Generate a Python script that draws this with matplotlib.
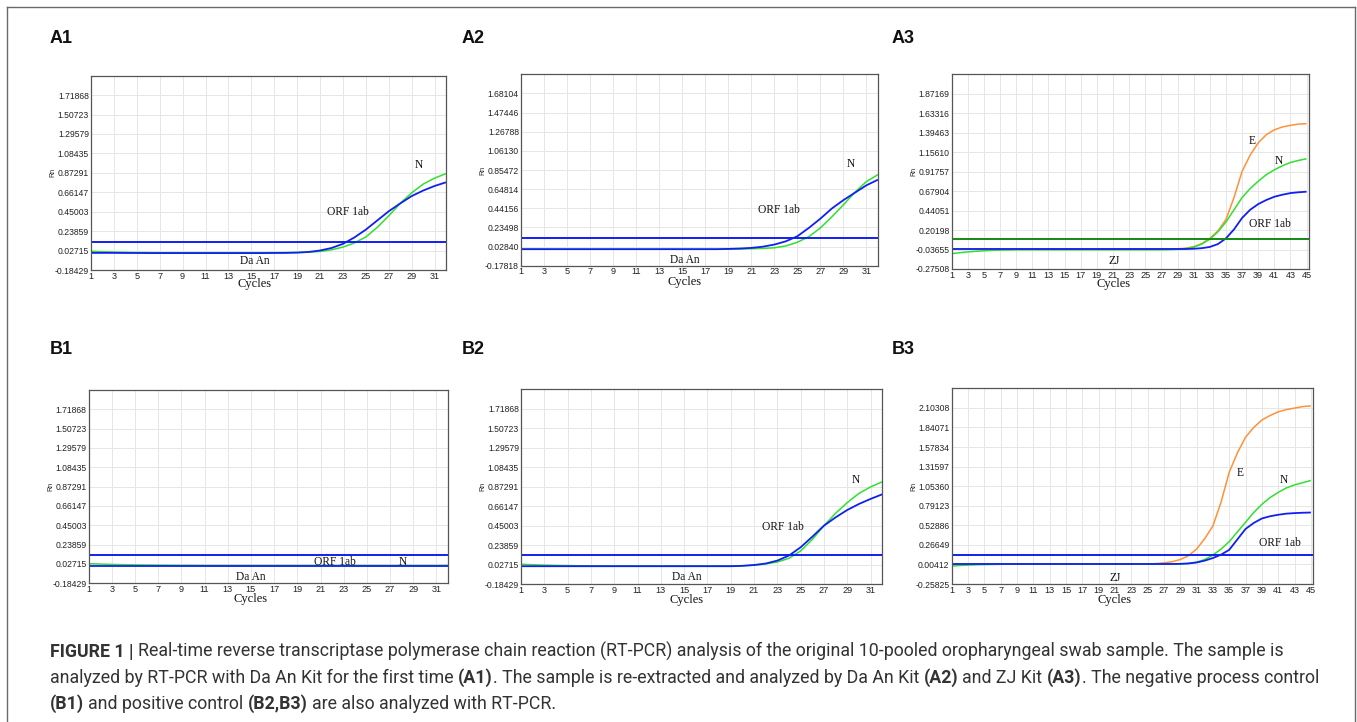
import matplotlib
matplotlib.use("Agg")
import matplotlib.pyplot as plt
from matplotlib.font_manager import FontProperties
from matplotlib.lines import Line2D

# ---------------- data ----------------
CYC32 = list(range(1, 33))
CYC45 = list(range(1, 46))

YT_DAAN = ['-0.18429', '0.02715', '0.23859', '0.45003', '0.66147',
           '0.87291', '1.08435', '1.29579', '1.50723', '1.71868']
YT_A2 = ['-0.17818', '0.02840', '0.23498', '0.44156', '0.64814',
         '0.85472', '1.06130', '1.26788', '1.47446', '1.68104']
YT_A3 = ['-0.27508', '-0.03655', '0.20198', '0.44051', '0.67904',
         '0.91757', '1.15610', '1.39463', '1.63316', '1.87169']
YT_B3 = ['-0.25825', '0.00412', '0.26649', '0.52886', '0.79123',
         '1.05360', '1.31597', '1.57834', '1.84071', '2.10308']

A1_N = [0.020, 0.015, 0.011, 0.008, 0.006, 0.005, 0.004, 0.004, 0.004, 0.004,
        0.004, 0.004, 0.004, 0.004, 0.004, 0.004, 0.005, 0.005, 0.006, 0.010,
        0.018, 0.035, 0.065, 0.110, 0.175, 0.280, 0.405, 0.540, 0.655, 0.750,
        0.815, 0.865]
A1_ORF = [0.002, 0.002, 0.002, 0.001, 0.001, 0.000, 0.000, 0.000, 0.000, 0.000,
          0.000, 0.000, 0.000, 0.000, 0.000, 0.000, 0.001, 0.002, 0.005, 0.012,
          0.028, 0.055, 0.100, 0.170, 0.255, 0.355, 0.455, 0.540, 0.620, 0.680,
          0.730, 0.770]
A1_THR = 0.122

A2_N = [0.003, 0.002, 0.001, 0.000, 0.000, 0.000, 0.000, 0.000, 0.000, 0.000,
        0.000, 0.000, 0.000, 0.000, 0.000, 0.000, 0.000, 0.000, 0.001, 0.002,
        0.005, 0.009, 0.015, 0.035, 0.075, 0.135, 0.230, 0.350, 0.480, 0.615,
        0.730, 0.805]
A2_ORF = [0.000, 0.000, 0.000, 0.000, 0.000, 0.000, 0.000, 0.000, 0.000, 0.000,
          0.000, 0.000, 0.000, 0.000, 0.000, 0.000, 0.000, 0.000, 0.003, 0.007,
          0.014, 0.027, 0.050, 0.085, 0.140, 0.230, 0.330, 0.440, 0.530, 0.610,
          0.690, 0.750]
A2_THR = 0.125

A3_E = [-0.030, -0.030, -0.030, -0.030, -0.030, -0.030, -0.030, -0.030, -0.030, -0.030,
        -0.030, -0.030, -0.030, -0.030, -0.030, -0.030, -0.030, -0.030, -0.030, -0.030,
        -0.030, -0.030, -0.030, -0.030, -0.030, -0.030, -0.030, -0.030, -0.028, -0.020,
        -0.002, 0.035, 0.100, 0.190, 0.330, 0.600, 0.920, 1.120, 1.270, 1.370,
        1.430, 1.465, 1.485, 1.500, 1.505]
A3_N = [-0.087, -0.075, -0.066, -0.058, -0.052, -0.047, -0.044, -0.042, -0.040, -0.040,
        -0.040, -0.040, -0.040, -0.040, -0.040, -0.040, -0.040, -0.040, -0.040, -0.040,
        -0.040, -0.040, -0.040, -0.040, -0.040, -0.040, -0.040, -0.038, -0.034, -0.025,
        -0.008, 0.030, 0.090, 0.180, 0.300, 0.450, 0.600, 0.710, 0.800, 0.880,
        0.940, 0.990, 1.030, 1.055, 1.076]
A3_ORF = [-0.030, -0.030, -0.030, -0.030, -0.030, -0.030, -0.030, -0.030, -0.030, -0.030,
          -0.030, -0.030, -0.030, -0.030, -0.030, -0.030, -0.030, -0.030, -0.030, -0.030,
          -0.030, -0.030, -0.030, -0.030, -0.030, -0.030, -0.030, -0.030, -0.030, -0.030,
          -0.027, -0.020, -0.005, 0.030, 0.100, 0.210, 0.350, 0.450, 0.520, 0.570,
          0.610, 0.635, 0.655, 0.665, 0.672]
A3_THR = 0.088

B1_N = [0.030, 0.026, 0.022, 0.019, 0.017, 0.015, 0.014, 0.013, 0.012, 0.012,
        0.011, 0.011, 0.011, 0.011, 0.011, 0.011, 0.011, 0.011, 0.011, 0.011,
        0.011, 0.011, 0.011, 0.011, 0.011, 0.011, 0.011, 0.011, 0.011, 0.011,
        0.011, 0.012]
B1_ORF = [0.008, 0.008, 0.008, 0.008, 0.008, 0.008, 0.008, 0.008, 0.008, 0.008,
          0.008, 0.008, 0.008, 0.008, 0.008, 0.008, 0.008, 0.008, 0.008, 0.008,
          0.008, 0.008, 0.008, 0.008, 0.008, 0.008, 0.008, 0.008, 0.008, 0.008,
          0.008, 0.008]
B1_THR = 0.127

B2_N = [0.030, 0.025, 0.021, 0.018, 0.016, 0.014, 0.013, 0.012, 0.012, 0.012,
        0.012, 0.012, 0.012, 0.012, 0.012, 0.012, 0.012, 0.012, 0.012, 0.014,
        0.020, 0.033, 0.055, 0.095, 0.175, 0.300, 0.450, 0.585, 0.700, 0.800,
        0.870, 0.926]
B2_ORF = [0.009, 0.009, 0.009, 0.009, 0.009, 0.009, 0.009, 0.009, 0.009, 0.009,
          0.009, 0.009, 0.009, 0.009, 0.009, 0.009, 0.009, 0.009, 0.009, 0.013,
          0.022, 0.038, 0.070, 0.125, 0.215, 0.330, 0.450, 0.540, 0.620, 0.685,
          0.740, 0.790]
B2_THR = 0.127

B3_E = [0.010, 0.010, 0.010, 0.010, 0.010, 0.010, 0.010, 0.010, 0.010, 0.010,
        0.010, 0.010, 0.010, 0.010, 0.010, 0.010, 0.010, 0.010, 0.010, 0.010,
        0.010, 0.010, 0.010, 0.010, 0.010, 0.015, 0.025, 0.040, 0.070, 0.120,
        0.210, 0.350, 0.520, 0.840, 1.240, 1.500, 1.710, 1.840, 1.940, 2.000,
        2.050, 2.080, 2.100, 2.120, 2.130]
B3_N = [-0.017, -0.010, -0.005, -0.001, 0.002, 0.004, 0.006, 0.008, 0.008, 0.008,
        0.008, 0.008, 0.008, 0.008, 0.008, 0.008, 0.008, 0.008, 0.008, 0.008,
        0.008, 0.008, 0.008, 0.008, 0.008, 0.008, 0.008, 0.008, 0.011, 0.018,
        0.035, 0.070, 0.130, 0.210, 0.310, 0.440, 0.570, 0.700, 0.810, 0.900,
        0.970, 1.030, 1.070, 1.100, 1.130]
B3_ORF = [0.010, 0.010, 0.010, 0.010, 0.010, 0.010, 0.010, 0.010, 0.010, 0.010,
          0.010, 0.010, 0.010, 0.010, 0.010, 0.010, 0.010, 0.010, 0.010, 0.010,
          0.010, 0.010, 0.010, 0.010, 0.010, 0.010, 0.010, 0.010, 0.012, 0.017,
          0.030, 0.055, 0.090, 0.135, 0.200, 0.340, 0.480, 0.560, 0.620, 0.650,
          0.670, 0.685, 0.692, 0.697, 0.700]
B3_THR = 0.133

CAPTION = [
    [("FIGURE 1 |", True, False),
     ("Real-time reverse transcriptase polymerase chain reaction (RT-PCR) analysis of the original 10-pooled oropharyngeal swab sample. The sample is", False, True)],
    [("analyzed by RT-PCR with Da An Kit for the first time", False, False),
     ("(A1)", True, True),
     (". The sample is re-extracted and analyzed by Da An Kit", False, False),
     ("(A2)", True, True),
     ("and ZJ Kit", False, True),
     ("(A3)", True, True),
     (". The negative process control", False, False)],
    [("(B1)", True, False),
     ("and positive control", False, True),
     ("(B2,B3)", True, True),
     ("are also analyzed with RT-PCR.", False, True)],
]

# ---------------- styling ----------------
W, H = 1357, 722
BLUE = '#1020f0'
GREEN = '#30e030'
ORANGE = '#ff9138'
DKGREEN = '#138a13'
TICKFONT = 'Liberation Sans'
ANNFONT = 'Liberation Serif'

fig = plt.figure(figsize=(W / 100, H / 100), dpi=100)
fig.patch.set_facecolor('white')
renderer = fig.canvas.get_renderer()


def rect(l, r, t, b):
    return [l / W, 1 - b / H, (r - l) / W, (b - t) / H]


def make_panel(box, x, series, thr, thr_color, yt, xmax, labels, cyc_dy):
    ax = fig.add_axes(rect(*box))
    ytv = [float(v) for v in yt]
    step = (ytv[-1] - ytv[0]) / (len(ytv) - 1)
    ax.set_ylim(ytv[0], ytv[0] + 10 * step)
    ax.set_xlim(1, xmax)
    ax.set_yticks(ytv)
    ax.set_yticklabels(yt)
    xt = list(range(1, int(xmax) + 1, 2))
    ax.set_xticks(xt)
    ax.set_xticklabels([str(v) for v in xt])
    ax.tick_params(length=0, colors='#222222')
    ax.tick_params(axis='y', labelsize=6.2, pad=1.5)
    ax.tick_params(axis='x', labelsize=6.6, pad=1.2)
    for lab in ax.get_xticklabels() + ax.get_yticklabels():
        lab.set_fontfamily(TICKFONT)
    ax.grid(True, color='#e6e6e6', lw=0.7)
    ax.set_axisbelow(True)
    for sp in ax.spines.values():
        sp.set_color('#555555')
        sp.set_linewidth(0.9)
    for vals, col, lw in series:
        ax.plot(x, vals, color=col, lw=lw, solid_capstyle='butt', clip_on=True)
    ax.axhline(thr, color=thr_color, lw=1.4)
    for txt, tx, ty in labels:
        ax.text(tx, ty, txt, fontsize=8.3, family=ANNFONT, ha='center', va='center', color='#111111')
    ax.annotate('Cycles', xy=(labels[-1][1], 0), xycoords=('data', 'axes fraction'),
                xytext=(0, -cyc_dy - 2), textcoords='offset pixels', ha='center', va='center',
                fontsize=9, family=ANNFONT, color='#111111')
    ax.annotate('Rn', xy=(0, 0.5), xycoords='axes fraction', xytext=(-38, 0),
                textcoords='offset pixels', rotation=90, ha='center', va='center',
                fontsize=5, family=TICKFONT, color='#222222')
    return ax


make_panel((91, 446, 75.7, 270), CYC32,
           [(A1_N, GREEN, 1.1), (A1_ORF, BLUE, 1.3)], A1_THR, BLUE, YT_DAAN, 32,
           [('N', 29.6, 0.957), ('ORF 1ab', 23.4, 0.452), ('Da An', 15.3, -0.085)], 12.5)
make_panel((521, 878, 74.3, 265.7), CYC32,
           [(A2_N, GREEN, 1.1), (A2_ORF, BLUE, 1.3)], A2_THR, BLUE, YT_A2, 32,
           [('N', 29.6, 0.923), ('ORF 1ab', 23.4, 0.425), ('Da An', 15.2, -0.116)], 14)
make_panel((951.7, 1309, 74.3, 269), CYC45,
           [(A3_E, ORANGE, 1.1), (A3_N, GREEN, 1.1), (A3_ORF, BLUE, 1.3)], A3_THR, DKGREEN, YT_A3, 45.3,
           [('E', 38.2, 1.287), ('N', 41.6, 1.042), ('ORF 1ab', 40.5, 0.277), ('ZJ', 21.1, -0.177)], 12.5)
make_panel((88.7, 448, 390, 583.3), CYC32,
           [(B1_N, GREEN, 1.1), (B1_ORF, BLUE, 1.3)], B1_THR, BLUE, YT_DAAN, 32,
           [('ORF 1ab', 22.25, 0.049), ('N', 28.1, 0.053), ('Da An', 15.0, -0.115)], 13.5)
make_panel((521, 882.3, 389.3, 584), CYC32,
           [(B2_N, GREEN, 1.1), (B2_ORF, BLUE, 1.3)], B2_THR, BLUE, YT_DAAN, 32,
           [('N', 29.7, 0.949), ('ORF 1ab', 23.5, 0.44), ('Da An', 15.2, -0.11)], 13.7)
make_panel((951.7, 1313.3, 388.3, 584), CYC45,
           [(B3_E, ORANGE, 1.1), (B3_N, GREEN, 1.1), (B3_ORF, BLUE, 1.3)], B3_THR, BLUE, YT_B3, 45.3,
           [('E', 36.3, 1.232), ('N', 41.7, 1.135), ('ORF 1ab', 41.2, 0.295), ('ZJ', 21.0, -0.182)], 13.7)

# panel letters
for lab, px, py in [('A1', 50, 38.5), ('A2', 462, 38.5), ('A3', 892, 38.5),
                    ('B1', 50, 350), ('B2', 462, 350), ('B3', 892, 350)]:
    fig.text(px / W, 1 - py / H, lab, fontsize=13, fontweight='bold', family='Liberation Sans',
             ha='left', va='center', color='#111111')

# outer border (no bottom edge)
bc = '#6a6a6a'
fig.add_artist(Line2D([7 / W, 1355 / W], [1 - 6.5 / H, 1 - 6.5 / H], color=bc, lw=1.0, transform=fig.transFigure))
fig.add_artist(Line2D([7 / W, 7 / W], [1 - 6.5 / H, 0], color=bc, lw=1.0, transform=fig.transFigure))
fig.add_artist(Line2D([1355 / W, 1355 / W], [1 - 6.5 / H, 0], color=bc, lw=1.0, transform=fig.transFigure))

# caption with mixed weights
CAPFONT = 'Roboto'


def fp(size, bold):
    return FontProperties(family=CAPFONT, size=size, weight='bold' if bold else 'normal')


def tw(s, prop):
    w, h, d = renderer.get_text_width_height_descent(s, prop, ismath=False)
    return w


def line_width(segs, size):
    total = 0
    for txt, bold, sp in segs:
        if sp:
            total += tw('a a', fp(size, False)) - tw('aa', fp(size, False))
        total += tw(txt, fp(size, bold))
    return total


base = 12.0
fs = base * 1268.0 / line_width(CAPTION[1], base)
for segs, yb in zip(CAPTION, [657, 683, 709]):
    x = 50.0
    for txt, bold, sp in segs:
        if sp:
            x += tw('a a', fp(fs, False)) - tw('aa', fp(fs, False))
        fig.text(x / W, 1 - yb / H, txt, fontproperties=fp(fs, bold), ha='left', va='baseline',
                 color='#333333')
        x += tw(txt, fp(fs, bold))

fig.savefig('out.png', dpi=100, facecolor='white')
